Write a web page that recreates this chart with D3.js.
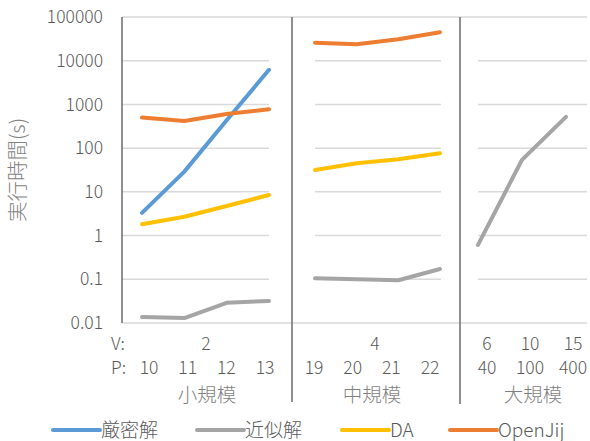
<!DOCTYPE html>
<html><head><meta charset="utf-8">
<script src="https://cdn.jsdelivr.net/npm/d3@7"></script>
<style>body{margin:0;background:#fff}svg{display:block}text{font-family:"Noto Sans CJK JP","Noto Sans",sans-serif;font-weight:300}</style>
</head><body>
<svg id="c" width="590" height="441"></svg>
<script>
// ---- data ----
const groups = ["小規模", "中規模", "大規模"];
const vLabels = [["2"], ["4"], ["6", "10", "15"]];
const pLabels = [["10", "11", "12", "13"], ["19", "20", "21", "22"], ["40", "100", "400"]];
const seriesNames = ["厳密解", "近似解", "DA", "OpenJij"];
// values per group (null = no data)
const exact   = [[3.3, 29, 435, 6200], null, null];
const approx  = [[0.0137, 0.013, 0.029, 0.032], [0.105, 0.1, 0.095, 0.172], [0.61, 54, 520]];
const da      = [[1.82, 2.7, 4.76, 8.5], [31.7, 45, 55.7, 76], null];
const openjij = [[500, 419, 606, 776], [25900, 23800, 31000, 44900], null];
const yTicks = [0.01, 0.1, 1, 10, 100, 1000, 10000, 100000];
const yTickLabels = ["0.01", "0.1", "1", "10", "100", "1000", "10000", "100000"];
const yTitle = "実行時間(s)";

// ---- layout ----
const colors = ["#5B9BD5", "#A5A5A5", "#FFC000", "#ED7D31"];
const allSeries = [exact, approx, da, openjij];
const svg = d3.select("#c");
const y = d3.scaleLog().domain([0.01, 100000]).range([323, 17]);
const plotL = 122, plotR = 587;
const panelLine = [[142, 269], [315, 440], [478, 566]];
const panelLabel = [[149, 265], [314, 430], [487, 573]];
const panelGrid = [[122, 269], [315, 441], [478, 587]];
const panelBounds = [[122, 292], [292, 460], [460, 590]];
const sepX = [292, 460];
const txt = "#595959";
const fs = 17.5;

// gridlines
const inner = yTicks.slice(1, -1);
panelGrid.forEach(([a, b]) => {
  svg.append("g").selectAll("line").data(inner).join("line")
    .attr("x1", a).attr("x2", b).attr("y1", d => y(d)).attr("y2", d => y(d))
    .attr("stroke", "#d9d9d9").attr("stroke-width", 1.5);
});
[yTicks[0], yTicks[yTicks.length - 1]].forEach(t => {
  svg.append("line").attr("x1", plotL).attr("x2", plotR).attr("y1", y(t)).attr("y2", y(t))
    .attr("stroke", "#d9d9d9").attr("stroke-width", 1.5);
});

// y axis labels
svg.append("g").selectAll("text").data(yTicks).join("text")
  .attr("x", 103).attr("y", d => y(d)).attr("dy", "0.35em")
  .attr("text-anchor", "end").attr("fill", txt).attr("font-size", fs)
  .text((d, i) => yTickLabels[i]);

// y title
svg.append("text").attr("transform", "translate(25,170) rotate(-90)")
  .attr("text-anchor", "middle").attr("fill", "#7f7f7f").attr("font-size", 20.5)
  .text(yTitle);

// axis & separators
svg.append("line").attr("x1", plotL).attr("x2", plotL).attr("y1", y(100000)).attr("y2", y(0.01))
  .attr("stroke", "#6b6b6b").attr("stroke-width", 1.5);
sepX.forEach((sx, i) => {
  svg.append("line").attr("x1", sx).attr("x2", sx).attr("y1", y(100000)).attr("y2", 402 + i * 2)
    .attr("stroke", "#6b6b6b").attr("stroke-width", 1.5);
});

// lines
const line = d3.line().x(d => d.x).y(d => y(d.v));
groups.forEach((g, gi) => {
  const xs = d3.scalePoint().domain(pLabels[gi]).range(panelLine[gi]);
  allSeries.forEach((s, si) => {
    if (!s[gi]) return;
    const pts = s[gi].map((v, k) => ({ x: xs(pLabels[gi][k]), v }));
    svg.append("path").datum(pts).attr("d", line).attr("fill", "none")
      .attr("stroke", colors[si]).attr("stroke-width", 4)
      .attr("stroke-linecap", "round").attr("stroke-linejoin", "round");
  });
  // labels
  const xl = d3.scalePoint().domain(pLabels[gi]).range(panelLabel[gi]);
  const mid = (panelBounds[gi][0] + panelBounds[gi][1]) / 2;
  if (vLabels[gi].length === pLabels[gi].length) {
    vLabels[gi].forEach((v, k) => svg.append("text").attr("x", xl(pLabels[gi][k])).attr("y", 344)
      .attr("dy", "0.35em").attr("text-anchor", "middle").attr("fill", txt).attr("font-size", fs).text(v));
  } else {
    svg.append("text").attr("x", mid - 1).attr("y", 344).attr("dy", "0.35em")
      .attr("text-anchor", "middle").attr("fill", txt).attr("font-size", fs).text(vLabels[gi][0]);
  }
  pLabels[gi].forEach(p => svg.append("text").attr("x", xl(p)).attr("y", 368).attr("dy", "0.35em")
    .attr("text-anchor", "middle").attr("fill", txt).attr("font-size", fs).text(p));
  svg.append("text").attr("x", [207, 372, 533][gi]).attr("y", 395).attr("dy", "0.35em")
    .attr("text-anchor", "middle").attr("fill", "#7f7f7f").attr("font-size", 19.5).text(g);
});
svg.append("text").attr("x", 111).attr("y", 344).attr("dy", "0.35em").attr("fill", txt).attr("font-size", fs).text("V:");
svg.append("text").attr("x", 111).attr("y", 368).attr("dy", "0.35em").attr("fill", txt).attr("font-size", fs).text("P:");

// legend
const legX = [53, 197, 342, 450];
const lg = svg.append("g").selectAll("g").data(seriesNames).join("g")
  .attr("transform", (d, i) => `translate(${legX[i]},430)`);
lg.append("line").attr("x1", 0).attr("x2", 47).attr("stroke", (d, i) => colors[i])
  .attr("stroke-width", 4).attr("stroke-linecap", "round");
lg.append("text").attr("x", 48).attr("dy", "0.35em").attr("fill", txt).attr("font-size", 19).text(d => d);
</script>
</body></html>
